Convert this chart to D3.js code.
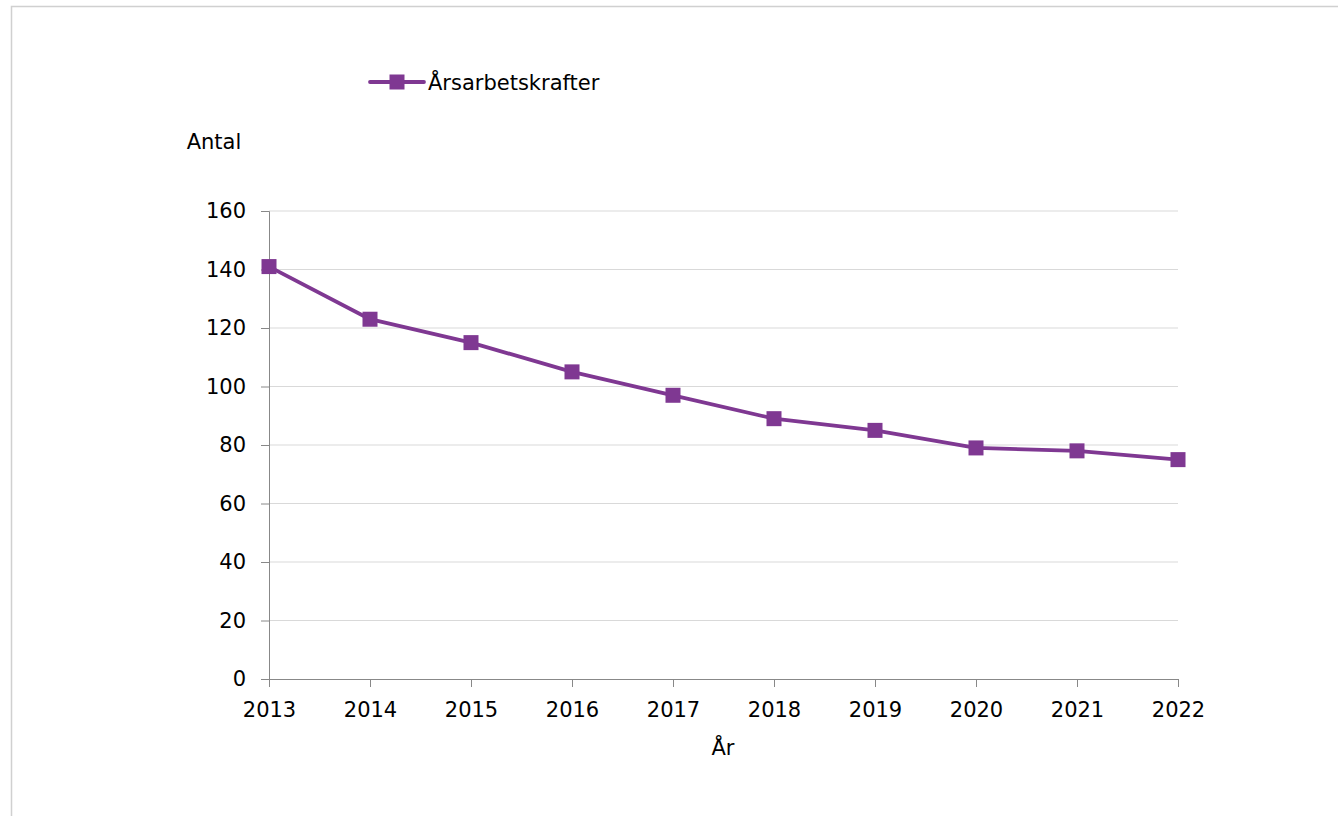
<!DOCTYPE html>
<html>
<head>
<meta charset="utf-8">
<script src="https://cdn.jsdelivr.net/npm/d3@7"></script>
<style>
  body { margin: 0; background: #fff; }
  svg text { font-family: "DejaVu Sans", Verdana, sans-serif; fill: #000; }
</style>
</head>
<body>
<div id="chart"></div>
<script>
// Data
var years = [2013, 2014, 2015, 2016, 2017, 2018, 2019, 2020, 2021, 2022];
var values = [141, 123, 115, 105, 97, 89, 85, 79, 78, 75];
var yTicks = [0, 20, 40, 60, 80, 100, 120, 140, 160];
var seriesName = "Årsarbetskrafter";

var width = 1338, height = 816;
var margin = { top: 211, right: 160, bottom: 137, left: 269 };
var plotW = width - margin.left - margin.right;
var plotH = height - margin.top - margin.bottom;
var color = "#7f3892";
var fontSize = 21;

var svg = d3.select("#chart")
    .append("svg")
    .attr("width", width)
    .attr("height", height);

// outer frame
svg.append("rect")
    .attr("x", 11.5).attr("y", 6.5)
    .attr("width", width + 20).attr("height", height + 20)
    .attr("fill", "none")
    .attr("stroke", "#d0d0d0")
    .attr("stroke-width", 1.5);

var chartGroup = svg.append("g")
    .attr("transform", `translate(${margin.left}, ${margin.top})`);

var xScale = d3.scalePoint()
    .domain(years)
    .range([0, plotW]);

var yScale = d3.scaleLinear()
    .domain([0, 160])
    .range([plotH, 0]);

// gridlines
chartGroup.append("g")
    .selectAll("line")
    .data(yTicks.filter(d => d > 0))
    .join("line")
    .attr("x1", 0).attr("x2", plotW)
    .attr("y1", d => yScale(d)).attr("y2", d => yScale(d))
    .attr("stroke", "#d9d9d9")
    .attr("stroke-width", 1);

// y axis
var yAxis = chartGroup.append("g")
    .call(d3.axisLeft(yScale).tickValues(yTicks).tickSize(8).tickPadding(15));
yAxis.select(".domain").attr("stroke", "#888");
yAxis.selectAll(".tick line").attr("stroke", "#888");
yAxis.selectAll("text").attr("font-size", fontSize).attr("font-family", "DejaVu Sans");

// x axis
var xAxis = chartGroup.append("g")
    .attr("transform", `translate(0, ${plotH})`)
    .call(d3.axisBottom(xScale).tickSize(8).tickPadding(15).tickSizeOuter(0));
xAxis.select(".domain").attr("stroke", "#888");
xAxis.selectAll(".tick line").attr("stroke", "#888");
xAxis.selectAll("text").attr("font-size", fontSize).attr("font-family", "DejaVu Sans");

// series line
var line = d3.line()
    .x((d, i) => xScale(years[i]))
    .y(d => yScale(d));

chartGroup.append("path")
    .datum(values)
    .attr("d", line)
    .attr("fill", "none")
    .attr("stroke", color)
    .attr("stroke-width", 3.8)
    .attr("stroke-linejoin", "round");

var ms = 15;
chartGroup.selectAll(".marker")
    .data(values)
    .join("rect")
    .attr("class", "marker")
    .attr("x", (d, i) => xScale(years[i]) - ms / 2)
    .attr("y", d => yScale(d) - ms / 2)
    .attr("width", ms).attr("height", ms)
    .attr("fill", color);

// axis titles
svg.append("text")
    .attr("x", 214).attr("y", 149)
    .attr("text-anchor", "middle")
    .attr("font-size", fontSize)
    .text("Antal");

svg.append("text")
    .attr("x", 723).attr("y", 755)
    .attr("text-anchor", "middle")
    .attr("font-size", fontSize)
    .text("År");

// legend
var legend = svg.append("g").attr("transform", "translate(370, 82)");
legend.append("line")
    .attr("x1", 0).attr("x2", 54)
    .attr("stroke", color)
    .attr("stroke-width", 3.8)
    .attr("stroke-linecap", "round");
legend.append("rect")
    .attr("x", 27 - ms / 2).attr("y", -ms / 2)
    .attr("width", ms).attr("height", ms)
    .attr("fill", color);
legend.append("text")
    .attr("x", 58).attr("y", 8)
    .attr("font-size", fontSize)
    .text(seriesName);
</script>
</body>
</html>
